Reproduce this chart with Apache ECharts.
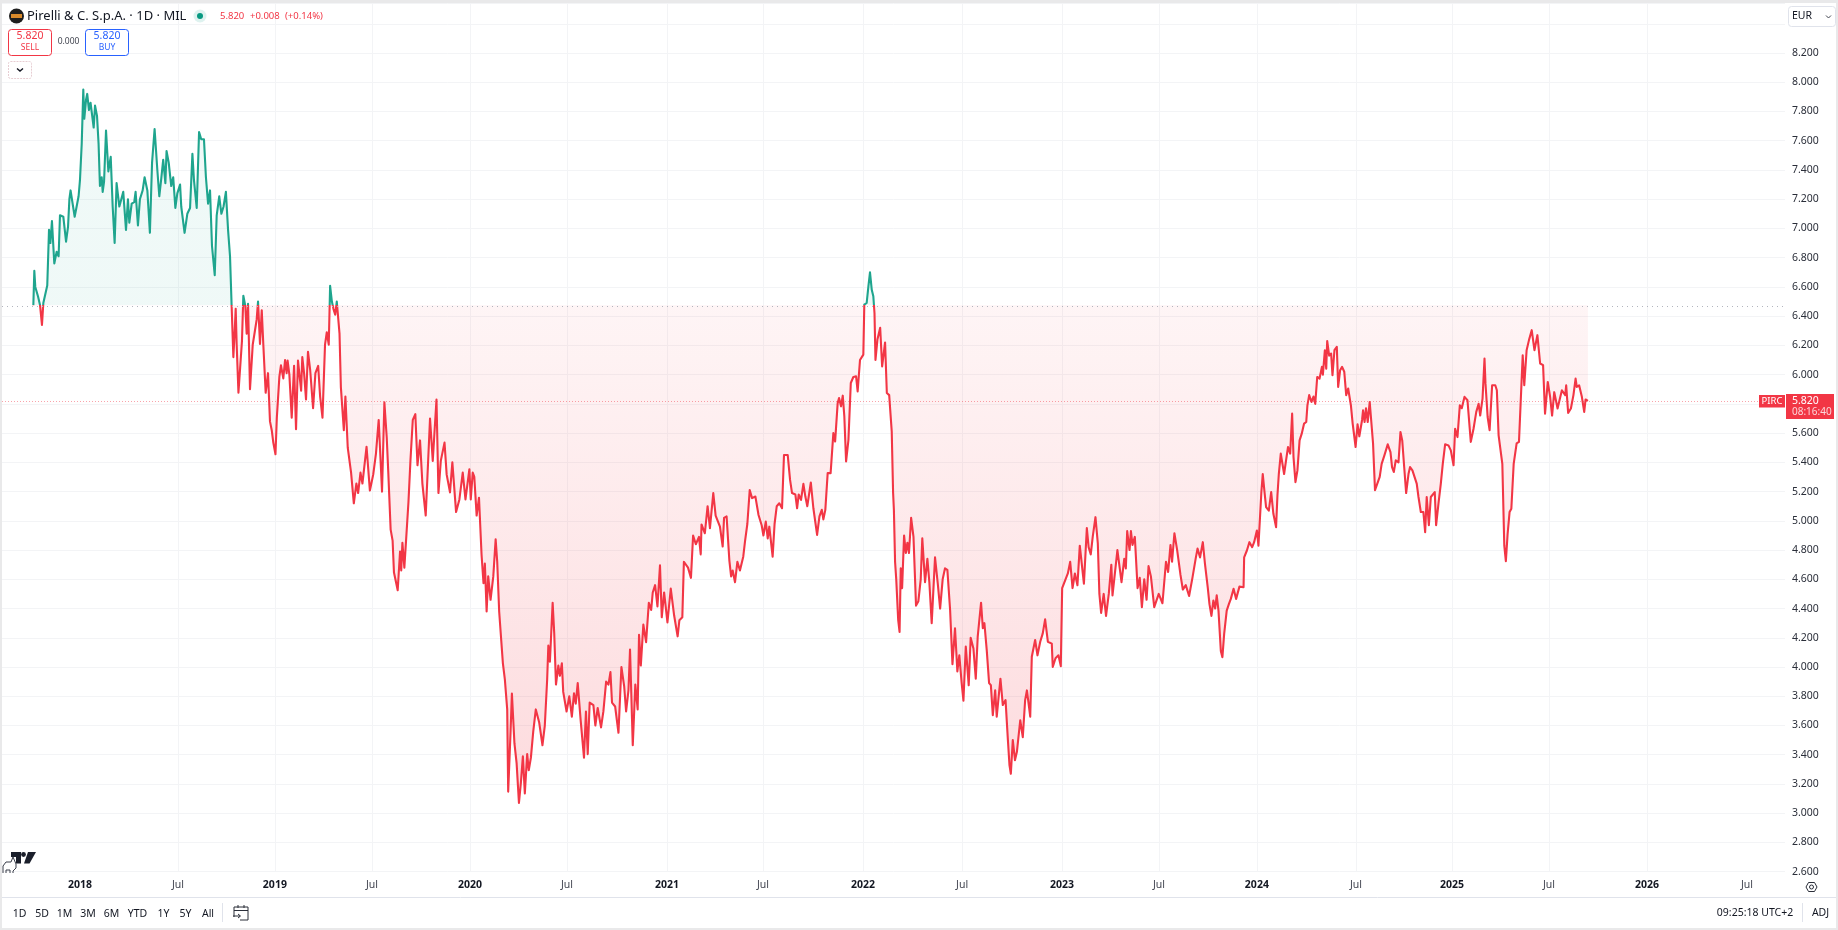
<!DOCTYPE html>
<html><head><meta charset="utf-8">
<style>html,body{margin:0;padding:0;background:#fff;overflow:hidden}#c{width:1838px;height:930px}</style>
<script src="https://cdn.jsdelivr.net/npm/echarts@6/dist/echarts.min.js"></script>
</head><body><div id="c"></div>
<script>
// Daily close: [decimal year on the session scale, price in EUR]
const closes2017=[[2017.762,6.475],[2017.767,6.71],[2017.772,6.60],[2017.779,6.607],[2017.786,6.534],[2017.796,6.477],[2017.806,6.34],[2017.813,6.49],[2017.823,6.50],[2017.833,6.61],[2017.842,6.99],[2017.849,6.90],[2017.857,7.05],[2017.869,6.76],[2017.881,6.84],[2017.891,6.81],[2017.898,7.09],[2017.915,7.08],[2017.929,6.91],[2017.939,7.01],[2017.946,7.20],[2017.952,7.26],[2017.961,7.25],[2017.973,7.08],[2017.980,7.07],[2017.993,7.22]];
const closes2018=[[2018.000,7.33],[2018.009,7.58],[2018.017,7.95],[2018.022,7.75],[2018.031,7.88],[2018.037,7.92],[2018.046,7.81],[2018.054,7.86],[2018.070,7.69],[2018.077,7.84],[2018.087,7.77],[2018.095,7.58],[2018.102,7.29],[2018.111,7.35],[2018.116,7.25],[2018.123,7.32],[2018.133,7.67],[2018.145,7.39],[2018.157,7.49],[2018.167,7.15],[2018.177,6.90],[2018.187,7.31],[2018.201,7.15],[2018.211,7.20],[2018.221,7.25],[2018.235,6.99],[2018.245,7.20],[2018.252,7.04],[2018.264,7.17],[2018.277,7.18],[2018.284,7.25],[2018.296,7.02],[2018.306,7.20],[2018.320,7.26],[2018.330,7.35],[2018.344,7.26],[2018.357,6.97],[2018.368,7.45],[2018.381,7.68],[2018.395,7.40],[2018.405,7.22],[2018.415,7.34],[2018.425,7.47],[2018.436,7.31],[2018.442,7.53],[2018.453,7.45],[2018.466,7.29],[2018.476,7.35],[2018.487,7.14],[2018.497,7.24],[2018.511,7.30],[2018.517,7.15],[2018.534,6.97],[2018.548,7.10],[2018.562,7.14],[2018.574,7.51],[2018.582,7.33],[2018.596,7.14],[2018.608,7.66],[2018.619,7.61],[2018.633,7.61],[2018.643,7.35],[2018.654,7.17],[2018.664,7.26],[2018.674,6.88],[2018.688,6.68],[2018.698,7.09],[2018.711,7.22],[2018.722,7.10],[2018.733,7.15],[2018.745,7.25],[2018.756,6.99],[2018.766,6.81],[2018.774,6.48],[2018.783,6.12],[2018.790,6.30],[2018.795,6.45],[2018.800,6.205],[2018.809,5.876],[2018.817,5.864],[2018.827,6.23],[2018.834,6.54],[2018.844,6.47],[2018.851,6.28],[2018.858,6.485],[2018.868,5.90],[2018.882,6.205],[2018.892,6.29],[2018.902,6.376],[2018.909,6.50],[2018.919,6.21],[2018.928,6.44],[2018.936,6.205],[2018.948,5.876],[2018.960,6.01],[2018.970,5.68],[2018.979,5.62],[2018.987,5.535],[2018.998,5.455]];
const closes2019=[[2019.005,5.706],[2019.018,5.986],[2019.026,6.064],[2019.038,5.974],[2019.047,6.10],[2019.055,6.01],[2019.060,6.096],[2019.069,6.0],[2019.081,5.706],[2019.093,6.06],[2019.103,5.626],[2019.113,6.096],[2019.120,6.084],[2019.129,5.89],[2019.135,6.12],[2019.144,6.01],[2019.154,5.83],[2019.164,6.157],[2019.175,6.035],[2019.190,5.77],[2019.202,6.01],[2019.216,6.06],[2019.226,5.85],[2019.238,5.706],[2019.251,6.205],[2019.260,6.29],[2019.270,6.205],[2019.277,6.607],[2019.286,6.50],[2019.294,6.45],[2019.303,6.41],[2019.311,6.50],[2019.320,6.51],[2019.325,6.28],[2019.332,5.913],[2019.347,5.62],[2019.355,5.85],[2019.367,5.50],[2019.384,5.33],[2019.398,5.12],[2019.411,5.255],[2019.420,5.19],[2019.432,5.33],[2019.442,5.255],[2019.463,5.507],[2019.480,5.207],[2019.497,5.316],[2019.511,5.46],[2019.525,5.69],[2019.542,5.20],[2019.554,5.81],[2019.566,5.57],[2019.574,5.33],[2019.586,4.94],[2019.596,4.865],[2019.603,4.646],[2019.622,4.525],[2019.634,4.79],[2019.640,4.66],[2019.646,4.85],[2019.656,4.68],[2019.665,4.69],[2019.677,5.13],[2019.687,5.41],[2019.699,5.69],[2019.712,5.73],[2019.723,5.38],[2019.736,5.55],[2019.748,5.255],[2019.765,5.036],[2019.787,5.70],[2019.801,5.41],[2019.820,5.83],[2019.830,5.19],[2019.842,5.41],[2019.861,5.535],[2019.872,5.316],[2019.889,5.195],[2019.901,5.40],[2019.920,5.06],[2019.937,5.146],[2019.954,5.33],[2019.968,5.146],[2019.988,5.353],[2019.995,5.146]];
const closes2020=[[2020.005,5.33],[2020.013,5.30],[2020.025,5.036],[2020.037,5.158],[2020.050,4.77],[2020.060,4.573],[2020.067,4.707],[2020.076,4.38],[2020.084,4.62],[2020.096,4.46],[2020.110,4.62],[2020.122,4.873],[2020.130,4.72],[2020.140,4.38],[2020.159,4.025],[2020.169,3.915],[2020.181,3.71],[2020.186,3.148],[2020.198,3.55],[2020.205,3.818],[2020.218,3.477],[2020.229,3.343],[2020.241,3.07],[2020.251,3.21],[2020.261,3.39],[2020.271,3.136],[2020.283,3.404],[2020.291,3.294],[2020.302,3.38],[2020.314,3.56],[2020.327,3.71],[2020.344,3.623],[2020.361,3.465],[2020.373,3.60],[2020.385,3.915],[2020.391,4.147],[2020.399,4.037],[2020.413,4.44],[2020.421,4.232],[2020.430,3.88],[2020.442,4.01],[2020.450,3.94],[2020.460,4.025],[2020.467,3.83],[2020.484,3.696],[2020.498,3.80],[2020.511,3.66],[2020.522,3.82],[2020.531,3.75],[2020.541,3.89],[2020.556,3.635],[2020.573,3.38],[2020.583,3.696],[2020.592,3.404],[2020.602,3.757],[2020.621,3.74],[2020.631,3.60],[2020.643,3.72],[2020.660,3.587],[2020.672,3.696],[2020.686,3.90],[2020.698,3.88],[2020.708,3.965],[2020.716,3.757],[2020.732,3.73],[2020.749,3.55],[2020.764,4.0],[2020.778,3.87],[2020.788,3.696],[2020.800,3.84],[2020.808,4.12],[2020.822,3.465],[2020.835,3.88],[2020.847,3.71],[2020.854,4.22],[2020.863,4.01],[2020.876,4.29],[2020.890,4.17],[2020.904,4.44],[2020.916,4.39],[2020.924,4.51],[2020.936,4.56],[2020.948,4.415],[2020.961,4.695],[2020.970,4.34],[2020.982,4.51],[2020.999,4.305]];
const closes2021=[[2021.016,4.537],[2021.033,4.354],[2021.051,4.21],[2021.060,4.32],[2021.075,4.34],[2021.083,4.72],[2021.104,4.68],[2021.119,4.61],[2021.130,4.90],[2021.144,4.84],[2021.160,4.89],[2021.169,4.77],[2021.173,4.975],[2021.190,4.915],[2021.204,5.10],[2021.216,4.95],[2021.233,5.19],[2021.245,5.036],[2021.253,5.025],[2021.267,4.96],[2021.281,4.824],[2021.288,5.02],[2021.301,5.03],[2021.315,4.73],[2021.324,4.62],[2021.332,4.66],[2021.344,4.58],[2021.356,4.72],[2021.369,4.66],[2021.386,4.755],[2021.395,4.86],[2021.407,4.98],[2021.419,5.21],[2021.431,5.155],[2021.448,5.166],[2021.464,5.04],[2021.480,4.97],[2021.489,4.90],[2021.501,4.995],[2021.511,4.88],[2021.519,4.96],[2021.536,4.755],[2021.546,4.98],[2021.557,5.10],[2021.570,5.12],[2021.584,5.086],[2021.594,5.45],[2021.613,5.45],[2021.625,5.28],[2021.635,5.19],[2021.652,5.18],[2021.661,5.086],[2021.669,5.18],[2021.681,5.143],[2021.693,5.253],[2021.703,5.166],[2021.713,5.10],[2021.731,5.262],[2021.744,5.086],[2021.763,4.904],[2021.775,5.03],[2021.787,5.075],[2021.795,5.01],[2021.805,5.075],[2021.817,5.326],[2021.832,5.326],[2021.846,5.60],[2021.855,5.543],[2021.868,5.805],[2021.875,5.84],[2021.885,5.783],[2021.894,5.856],[2021.902,5.714],[2021.911,5.406],[2021.923,5.554],[2021.935,5.943],[2021.948,5.984],[2021.962,5.988],[2021.970,5.885],[2021.982,6.10],[2021.999,6.137]];
const closes2022=[[2022.004,6.479],[2022.016,6.49],[2022.025,6.605],[2022.033,6.70],[2022.042,6.58],[2022.050,6.536],[2022.056,6.42],[2022.061,6.10],[2022.071,6.24],[2022.085,6.32],[2022.095,6.056],[2022.110,6.22],[2022.119,5.874],[2022.131,5.86],[2022.144,5.61],[2022.151,5.19],[2022.155,5.075],[2022.161,4.72],[2022.167,4.60],[2022.177,4.32],[2022.184,4.24],[2022.190,4.675],[2022.197,4.54],[2022.207,4.90],[2022.216,4.78],[2022.224,4.85],[2022.232,4.78],[2022.243,5.02],[2022.255,4.89],[2022.268,4.42],[2022.280,4.45],[2022.292,4.60],[2022.300,4.88],[2022.314,4.58],[2022.326,4.74],[2022.336,4.58],[2022.348,4.30],[2022.365,4.75],[2022.379,4.57],[2022.391,4.40],[2022.404,4.60],[2022.416,4.675],[2022.428,4.665],[2022.442,4.39],[2022.454,4.02],[2022.467,4.265],[2022.479,3.97],[2022.489,4.08],[2022.501,3.89],[2022.510,3.77],[2022.522,4.14],[2022.537,3.875],[2022.547,4.20],[2022.561,4.127],[2022.573,3.92],[2022.583,4.21],[2022.600,4.44],[2022.609,4.265],[2022.617,4.30],[2022.629,4.116],[2022.641,3.89],[2022.650,3.876],[2022.660,3.67],[2022.672,3.84],[2022.680,3.66],[2022.689,3.785],[2022.699,3.92],[2022.711,3.74],[2022.725,3.774],[2022.737,3.50],[2022.745,3.33],[2022.752,3.27],[2022.762,3.50],[2022.773,3.363],[2022.783,3.42],[2022.800,3.636],[2022.813,3.52],[2022.825,3.774],[2022.834,3.84],[2022.851,3.66],[2022.859,4.07],[2022.876,4.185],[2022.888,4.08],[2022.902,4.173],[2022.915,4.23],[2022.927,4.326],[2022.941,4.173],[2022.961,4.16],[2022.966,4.0],[2022.980,4.06],[2022.995,4.08]];
const closes2023=[[2023.007,4.006],[2023.014,4.54],[2023.024,4.55],[2023.043,4.64],[2023.055,4.72],[2023.067,4.54],[2023.079,4.64],[2023.092,4.56],[2023.104,4.83],[2023.125,4.57],[2023.140,4.95],[2023.149,4.82],[2023.160,4.77],[2023.170,4.89],[2023.184,5.025],[2023.196,4.846],[2023.204,4.50],[2023.213,4.37],[2023.226,4.50],[2023.238,4.35],[2023.252,4.50],[2023.265,4.70],[2023.271,4.49],[2023.288,4.70],[2023.296,4.80],[2023.317,4.58],[2023.331,4.74],[2023.339,4.675],[2023.346,4.93],[2023.358,4.80],[2023.365,4.93],[2023.373,4.835],[2023.385,4.89],[2023.399,4.54],[2023.410,4.61],[2023.421,4.41],[2023.433,4.60],[2023.445,4.46],[2023.455,4.69],[2023.467,4.62],[2023.484,4.41],[2023.507,4.50],[2023.526,4.436],[2023.544,4.72],[2023.555,4.65],[2023.567,4.835],[2023.575,4.72],[2023.587,4.915],[2023.601,4.80],[2023.618,4.63],[2023.630,4.53],[2023.645,4.56],[2023.662,4.486],[2023.679,4.61],[2023.696,4.745],[2023.705,4.81],[2023.718,4.75],[2023.732,4.854],[2023.743,4.706],[2023.757,4.546],[2023.766,4.43],[2023.776,4.35],[2023.786,4.455],[2023.795,4.40],[2023.803,4.49],[2023.812,4.386],[2023.824,4.11],[2023.832,4.067],[2023.841,4.227],[2023.854,4.386],[2023.865,4.43],[2023.875,4.466],[2023.889,4.535],[2023.902,4.466],[2023.919,4.55],[2023.940,4.546],[2023.943,4.75],[2023.957,4.797],[2023.970,4.854],[2023.984,4.82],[2023.994,4.854]];
const closes2024=[[2024.008,4.934],[2024.016,4.83],[2024.024,4.84],[2024.031,5.197],[2024.038,5.32],[2024.047,5.197],[2024.055,5.094],[2024.069,5.07],[2024.081,5.197],[2024.092,5.05],[2024.106,4.957],[2024.113,5.174],[2024.120,5.32],[2024.130,5.46],[2024.137,5.47],[2024.147,5.32],[2024.157,5.414],[2024.167,5.505],[2024.178,5.46],[2024.188,5.733],[2024.195,5.436],[2024.205,5.265],[2024.215,5.345],[2024.226,5.55],[2024.237,5.596],[2024.249,5.665],[2024.260,5.676],[2024.266,5.79],[2024.275,5.86],[2024.287,5.813],[2024.297,5.85],[2024.306,5.80],[2024.316,5.984],[2024.328,5.973],[2024.340,6.053],[2024.345,6.00],[2024.355,6.167],[2024.362,6.04],[2024.367,6.23],[2024.377,6.13],[2024.387,6.144],[2024.394,5.996],[2024.404,6.167],[2024.416,6.19],[2024.423,5.916],[2024.433,6.03],[2024.443,6.053],[2024.454,6.02],[2024.464,5.86],[2024.474,5.905],[2024.488,5.79],[2024.497,5.665],[2024.512,5.505],[2024.522,5.66],[2024.531,5.578],[2024.545,5.69],[2024.550,5.756],[2024.558,5.676],[2024.565,5.77],[2024.574,5.676],[2024.584,5.813],[2024.594,5.80],[2024.601,5.53],[2024.611,5.21],[2024.621,5.22],[2024.635,5.30],[2024.645,5.39],[2024.659,5.448],[2024.676,5.523],[2024.690,5.47],[2024.698,5.368],[2024.707,5.334],[2024.717,5.414],[2024.731,5.40],[2024.741,5.608],[2024.750,5.55],[2024.760,5.368],[2024.770,5.19],[2024.782,5.32],[2024.790,5.368],[2024.802,5.345],[2024.812,5.334],[2024.824,5.254],[2024.833,5.163],[2024.845,5.06],[2024.858,5.06],[2024.867,4.923],[2024.875,5.163],[2024.886,4.97],[2024.896,5.163],[2024.916,5.197],[2024.923,4.97],[2024.935,5.117],[2024.947,5.254],[2024.957,5.39],[2024.969,5.523],[2024.986,5.516],[2024.998,5.482]];
const closes2025=[[2025.012,5.38],[2025.020,5.63],[2025.032,5.573],[2025.044,5.79],[2025.054,5.77],[2025.068,5.848],[2025.083,5.825],[2025.100,5.54],[2025.114,5.63],[2025.128,5.745],[2025.140,5.80],[2025.148,5.72],[2025.160,5.836],[2025.170,6.11],[2025.175,5.94],[2025.186,5.71],[2025.196,5.62],[2025.209,5.927],[2025.225,5.927],[2025.233,5.893],[2025.242,5.585],[2025.261,5.39],[2025.271,4.83],[2025.279,4.724],[2025.288,4.91],[2025.298,5.06],[2025.307,5.083],[2025.319,5.39],[2025.334,5.53],[2025.346,5.54],[2025.365,6.133],[2025.373,5.927],[2025.385,6.167],[2025.397,6.236],[2025.411,6.304],[2025.425,6.167],[2025.440,6.27],[2025.454,6.076],[2025.469,6.065],[2025.479,5.733],[2025.493,5.95],[2025.505,5.848],[2025.515,5.72],[2025.526,5.88],[2025.543,5.768],[2025.565,5.893],[2025.582,5.86],[2025.587,5.927],[2025.597,5.738],[2025.611,5.768],[2025.624,5.86],[2025.635,5.973],[2025.641,5.916],[2025.653,5.927],[2025.667,5.848],[2025.679,5.745],[2025.686,5.83],[2025.698,5.82]];
const closes=[...closes2017,...closes2018,...closes2019,...closes2020,...closes2021,...closes2022,...closes2023,...closes2024,...closes2025];

const basePrice=6.475, lastPrice=5.82;
const xTickValues=[2018,2018.5,2018.995,2019.491,2019.991,2020.486,2020.997,2021.487,2021.997,2022.503,2023.013,2023.508,2024.008,2024.514,2025.004,2025.499,2026,2026.51];
const xTickLabels=['2018','Jul','2019','Jul','2020','Jul','2021','Jul','2022','Jul','2023','Jul','2024','Jul','2025','Jul','2026','Jul'];
const rangeButtons=['1D','5D','1M','3M','6M','YTD','1Y','5Y','All'];
const rangeX=[19.5,42,64.5,88,111.5,137.5,163.5,185.5,208];

const FONT='"Noto Sans","Open Sans",sans-serif';
const UP='#1fa58e', DOWN='#f23645', INK='#131722', BLUE='#2962ff';
const txt=(text,x,y,size,fill,o={})=>({type:'text',z:20,silent:true,style:Object.assign({text,x,y,fill,font:(o.weight||'normal')+' '+size+'px '+FONT,textAlign:o.align||'left',textVerticalAlign:'middle'},o.style||{})});
const rect=(x,y,w,h,s,r,z)=>({type:'rect',z:z||15,silent:true,shape:{x,y,width:w,height:h,r:r||0},style:s});
const seg=(x1,y1,x2,y2,stroke,lw)=>({type:'line',z:16,silent:true,shape:{x1,y1,x2,y2},style:{stroke,lineWidth:lw||1}});
const poly=(points,style)=>({type:'polyline',z:20,silent:true,shape:{points},style:Object.assign({fill:'none',stroke:'#2a2e39',lineWidth:1},style)});

const graphics=[
 rect(0,0,1838,3,{fill:'#e9e9ea'}),rect(0,0,2,930,{fill:'#e9e9ea'}),rect(0,928,1838,2,{fill:'#e9e9ea'}),rect(1836,0,2,930,{fill:'#e9e9ea'}),
 {type:'circle',z:20,silent:true,shape:{cx:16.5,cy:16,r:7.5},style:{fill:'#1e1e1e'}},
 rect(11,14,11,4,{fill:'#d98a2b'},0,21),
 txt('Pirelli & C. S.p.A. · 1D · MIL',27,16,13,INK),
 {type:'circle',z:20,silent:true,shape:{cx:200,cy:16,r:6.5},style:{fill:'rgba(34,171,148,.15)'}},
 {type:'circle',z:20,silent:true,shape:{cx:200,cy:16,r:3},style:{fill:'#089981'}},
 txt('5.820',220,16.5,9.5,DOWN),txt('+0.008',250,16.5,9.5,DOWN),txt('(+0.14%)',285,16.5,9.5,DOWN),
 rect(8.5,29.5,43,26,{fill:'#fff',stroke:DOWN,lineWidth:1},3),
 txt('5.820',30,36,10.5,DOWN,{align:'center'}),txt('SELL',30,47.5,8.5,DOWN,{align:'center'}),
 txt('0.000',68.5,42,8.5,'#434651',{align:'center'}),
 rect(85.5,29.5,43,26,{fill:'#fff',stroke:BLUE,lineWidth:1},3),
 txt('5.820',107,36,10.5,BLUE,{align:'center'}),txt('BUY',107,47.5,8.5,BLUE,{align:'center'}),
 rect(8.5,61.5,23,17,{fill:'#fff',stroke:'#e7cdd2',lineWidth:1,lineDash:[2,1]},2),
 poly([[17,68.5],[20,71],[23,68.5]],{stroke:INK,lineWidth:1.4}),
 rect(1788.5,6.5,47,20,{fill:'#fff',stroke:'#e0e3eb',lineWidth:1},3),
 txt('EUR',1792,16.5,10.5,INK),
 poly([[1826,15.5],[1828.5,18],[1831,15.5]],{stroke:'#434651',lineWidth:1}),
 rect(1759,395,26,12.5,{fill:DOWN}),
 txt('PIRC',1772,401.5,9.5,'#fff',{align:'center'}),
 rect(1786,394,48,25,{fill:DOWN}),
 txt('5.820',1792,401.5,10.5,'#fff'),
 txt('08:16:40',1792,412.5,10,'#fbd5d9'),
 seg(2,897.5,1836,897.5,'#e0e3eb'),
 seg(222.5,903,222.5,922,'#e0e3eb'),seg(1802.5,903,1802.5,922,'#e0e3eb'),
 ...rangeButtons.map((b,i)=>txt(b,rangeX[i],914,10.5,INK,{align:'center'})),
 poly([[234,917],[234,907],[248,907],[248,920],[240,920]],{stroke:'#2a2e39'}),
 seg(234,910.5,248,910.5,'#2a2e39'),seg(238,905,238,908,'#2a2e39'),seg(244,905,244,908,'#2a2e39'),
 poly([[233,916],[240,916]],{}),poly([[238,914],[240.5,916],[238,918]],{}),
 txt('09:25:18 UTC+2',1755,913.5,10.5,INK,{align:'center'}),
 txt('ADJ',1820.5,913.5,10.5,INK,{align:'center'}),
 poly([[1806,887],[1808.5,882.5],[1814.5,882.5],[1817,887],[1814.5,891.5],[1808.5,891.5],[1806,887]],{stroke:'#2a2e39'}),
 {type:'circle',z:20,silent:true,shape:{cx:1811.5,cy:887,r:2},style:{fill:'none',stroke:'#2a2e39',lineWidth:1}},
 {type:'polygon',z:20,silent:true,shape:{points:[[11,852],[21,852],[21,863.5],[16,863.5],[16,857],[11,857]]},style:{fill:'#1b1f2b'}},
 {type:'circle',z:20,silent:true,shape:{cx:23.5,cy:854.5,r:2.4},style:{fill:'#1b1f2b'}},
 {type:'polygon',z:20,silent:true,shape:{points:[[28,852],[36,852],[29.5,863.5],[24,863.5]]},style:{fill:'#1b1f2b'}},
 poly([[3,873],[3,866],[6,862],[11,862],[13,857],[16,864],[16,868],[13,871],[13,873]],{stroke:'#3a3e4a'}),
 poly([[6,873],[6,870],[10,870],[10,873]],{stroke:'#3a3e4a'})
];

const chart=echarts.init(document.getElementById('c'),null,{renderer:'canvas'});
const baseY=305.3, H=930, off=baseY/H;
chart.setOption({
 animation:false,
 backgroundColor:'#ffffff',
 textStyle:{fontFamily:FONT},
 grid:{left:2,right:53,top:3,bottom:58.3,containLabel:false},
 xAxis:{type:'value',min:2017.602,max:2026.704,
  axisLine:{show:false},
  axisTick:{show:false,customValues:xTickValues},
  splitLine:{show:true,showMinLine:false,showMaxLine:false,lineStyle:{color:'#f3f4f6',width:1}},
  axisLabel:{customValues:xTickValues,margin:8,hideOverlap:false,showMinLabel:true,showMaxLabel:true,
   formatter:v=>{const l=xTickLabels[xTickValues.indexOf(v)];return l==='Jul'?'{m|Jul}':'{y|'+l+'}';},
   rich:{m:{color:'#434651',fontSize:10.5,fontFamily:FONT},y:{color:INK,fontSize:10.5,fontWeight:'bold',fontFamily:FONT}}}},
 yAxis:{type:'value',position:'right',min:2.6,max:8.542,interval:0.2,
  axisLine:{show:false},axisTick:{show:false},
  splitLine:{show:true,lineStyle:{color:'#f3f4f6',width:1}},
  axisLabel:{margin:7,color:'#2a2e39',fontSize:10.5,fontFamily:FONT,padding:[2,0,0,0],showMinLabel:true,showMaxLabel:false,
   formatter:v=>v>8.3?'':v.toFixed(3)}},
 series:[{type:'line',data:closes,symbol:'none',smooth:false,sampling:false,
  lineStyle:{width:2.1,join:'round',color:{type:'linear',global:true,x:0,y:0,x2:0,y2:H,colorStops:[
   {offset:0,color:UP},{offset:off,color:UP},{offset:off,color:DOWN},{offset:1,color:DOWN}]}},
  areaStyle:{origin:basePrice,opacity:1,color:{type:'linear',global:true,x:0,y:0,x2:0,y2:H,colorStops:[
   {offset:0,color:'rgba(34,171,148,.07)'},{offset:off,color:'rgba(34,171,148,.07)'},
   {offset:off,color:'rgba(242,54,69,.05)'},{offset:803/H,color:'rgba(242,54,69,.18)'},{offset:1,color:'rgba(242,54,69,.18)'}]}},
  markLine:{silent:true,symbol:'none',animation:false,label:{show:false},
   data:[{yAxis:basePrice,lineStyle:{color:'#b2b5be',type:[1,4],width:1}},
         {yAxis:lastPrice,lineStyle:{color:'rgba(242,54,69,.45)',type:[1,2],width:1}}]}}],
 graphic:graphics
});
</script></body></html>
